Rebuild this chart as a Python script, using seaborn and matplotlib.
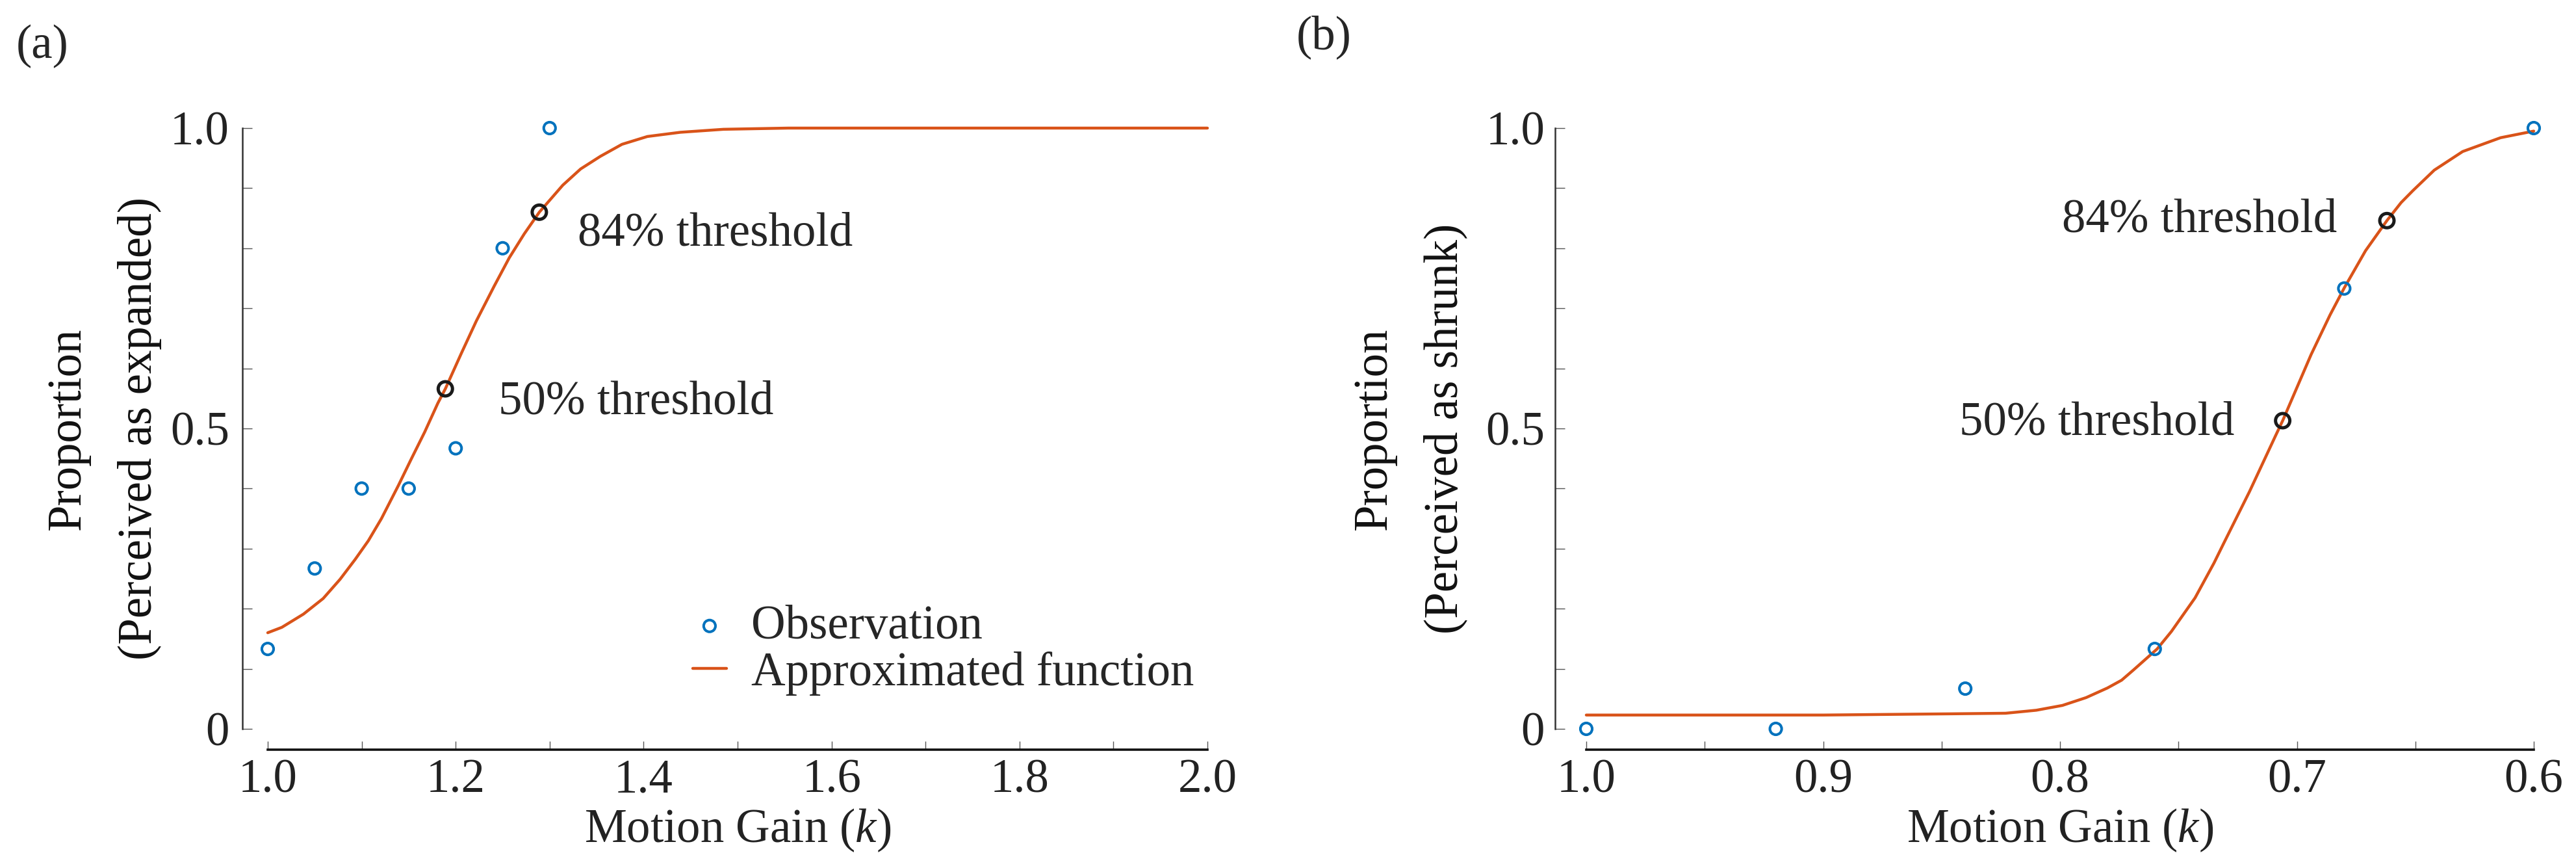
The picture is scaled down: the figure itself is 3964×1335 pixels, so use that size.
"""
Psychometric curves: proportion of 'expanded' / 'shrunk' answers vs motion gain.
Two panels, observations + fitted function + 50% / 84% thresholds.
"""
import numpy as np
import matplotlib
matplotlib.use("Agg")
import matplotlib.pyplot as plt
import seaborn as sns
from matplotlib.ticker import MultipleLocator

# ---- panel (a) : expansion -------------------------------------------------
gain_a = [1.00, 1.05, 1.10, 1.15, 1.20, 1.25, 1.30]
obs_a = [0.133, 0.267, 0.400, 0.400, 0.467, 0.800, 1.000]
fit_gain_a = [1.000, 1.015, 1.038, 1.059, 1.077, 1.093, 1.107, 1.121, 1.139,
              1.153, 1.167, 1.181, 1.189, 1.206, 1.222, 1.241, 1.257, 1.273,
              1.289, 1.314, 1.333, 1.354, 1.377, 1.404, 1.439, 1.485, 1.554,
              1.700, 2.000]
fit_prop_a = [0.160, 0.169, 0.191, 0.217, 0.249, 0.282, 0.313, 0.350, 0.405,
              0.450, 0.494, 0.542, 0.566, 0.625, 0.679, 0.737, 0.784, 0.824,
              0.860, 0.905, 0.932, 0.953, 0.973, 0.986, 0.993, 0.998, 1.000,
              1.000, 1.000]
thr_gain_a = [1.189, 1.289]
thr_prop_a = [0.566, 0.860]
xticks_a = [1.0, 1.2, 1.4, 1.6, 1.8, 2.0]
xticklabels_a = ["1.0", "1.2", "1.4", "1.6", "1.8", "2.0"]

# ---- panel (b) : shrink ----------------------------------------------------
gain_b = [1.00, 0.92, 0.84, 0.76, 0.68, 0.60]
obs_b = [0.000, 0.000, 0.067, 0.133, 0.733, 1.000]
fit_gain_b = [1.000, 0.900, 0.874, 0.847, 0.823, 0.810, 0.799, 0.789, 0.780,
              0.774, 0.769, 0.759, 0.753, 0.748, 0.743, 0.739, 0.735, 0.731,
              0.720, 0.709, 0.706, 0.694, 0.686, 0.680, 0.671, 0.662, 0.656,
              0.651, 0.642, 0.630, 0.614, 0.600]
fit_prop_b = [0.023, 0.023, 0.024, 0.025, 0.026, 0.031, 0.039, 0.052, 0.068,
              0.081, 0.098, 0.133, 0.162, 0.190, 0.218, 0.247, 0.276, 0.308,
              0.395, 0.488, 0.513, 0.623, 0.689, 0.734, 0.796, 0.846, 0.876,
              0.896, 0.930, 0.961, 0.984, 0.995]
thr_gain_b = [0.706, 0.662]
thr_prop_b = [0.513, 0.846]
xticks_b = [1.0, 0.9, 0.8, 0.7, 0.6]
xticklabels_b = ["1.0", "0.9", "0.8", "0.7", "0.6"]

yticks = [0.0, 0.5, 1.0]
yticklabels = ["0", "0.5", "1.0"]

BLUE = "#0072BD"
ORANGE = "#D95319"
FS = 52.5

sns.set_theme(style="ticks")
plt.rcParams["font.family"] = ["Liberation Serif", "DejaVu Serif"]
plt.rcParams["mathtext.fontset"] = "custom"
plt.rcParams["mathtext.rm"] = "Liberation Serif"
plt.rcParams["mathtext.it"] = "Liberation Serif:italic"

W, H = 3964, 1335
fig = plt.figure(figsize=(W / 100, H / 100), dpi=100)
ax_a = fig.add_axes([412 / W, 1 - 1121 / H, 1446 / W, 924 / H])
ax_b = fig.add_axes([2441 / W, 1 - 1121 / H, 1458 / W, 924 / H])


def draw(ax, gain, obs, fgain, fprop, tgain, tprop):
    sns.lineplot(x=fgain, y=fprop, ax=ax, sort=False, estimator=None,
                 color=ORANGE, lw=3.2, label="Approximated function",
                 clip_on=False, zorder=2)
    sns.scatterplot(x=gain, y=obs, ax=ax, marker="o", s=170, color=BLUE,
                    facecolor="none", edgecolor=BLUE, linewidth=2.9,
                    label="Observation", clip_on=False, zorder=3)
    sns.scatterplot(x=tgain, y=tprop, ax=ax, marker="o", s=250, color="k",
                    facecolor="none", edgecolor="k", linewidth=3.6,
                    clip_on=False, zorder=4)


def style(ax, xticks, xlabels, xminor, ypad, yoff, ylab, ylab_x):
    # ticks must be ascending for seaborn's trim
    pairs = sorted(zip(xticks, xlabels))
    ax.set_ylim(0, 1)
    ax.set_xticks([p[0] for p in pairs])
    ax.set_yticks(yticks)
    ax.xaxis.set_minor_locator(MultipleLocator(xminor))
    ax.yaxis.set_minor_locator(MultipleLocator(0.1))
    sns.despine(ax=ax, offset={"left": yoff, "bottom": 23}, trim=True)
    ax.set_xticks([p[0] for p in pairs])
    ax.set_xticklabels([p[1] for p in pairs])
    ax.set_yticklabels(yticklabels)
    ax.spines["left"].set_linewidth(1.8)
    ax.spines["left"].set_color("#333333")
    ax.spines["bottom"].set_linewidth(2.6)
    ax.spines["bottom"].set_color("#111111")
    ax.tick_params(axis="both", which="both", direction="in",
                   labelsize=FS, labelcolor="#222222")
    ax.tick_params(axis="y", which="both", length=11, width=1.0,
                   color="#555555", pad=ypad)
    ax.tick_params(axis="x", which="both", length=9.6, width=1.0,
                   color="#555555", pad=10)
    ax.set_xlabel("Motion Gain ($k$)", fontsize=FS, labelpad=5, color="#222222")
    ax.set_ylabel(ylab, fontsize=FS, linespacing=1.8, color="#111111")
    ax.yaxis.set_label_coords(ylab_x, 0.5)
    ax.set_facecolor("white")


# panel (a)
ax_a.set_xlim(1.0, 2.0)
draw(ax_a, gain_a, obs_a, fit_gain_a, fit_prop_a, thr_gain_a, thr_prop_a)
style(ax_a, xticks_a, xticklabels_a, 0.1, 14.5, 28,
      "Proportion\n(Perceived as expanded)", -0.1127)
ax_a.set_xlim(1.0, 2.0)
ax_a.text(1.3299, 0.805, "84% threshold", fontsize=FS, va="baseline", ha="left")
ax_a.text(1.2455, 0.524, "50% threshold", fontsize=FS, va="baseline", ha="left")
h, l = ax_a.get_legend_handles_labels()
order = [l.index("Observation"), l.index("Approximated function")]
ax_a.legend([h[i] for i in order], [l[i] for i in order],
            loc="center left", bbox_to_anchor=(0.4523, 0.131), frameon=False,
            fontsize=FS, handlelength=0.71, handletextpad=0.52,
            labelspacing=0.05, borderpad=0, borderaxespad=0, scatterpoints=1)

# panel (b)
ax_b.set_xlim(1.0, 0.6)
draw(ax_b, gain_b, obs_b, fit_gain_b, fit_prop_b, thr_gain_b, thr_prop_b)
style(ax_b, xticks_b, xticklabels_b, 0.05, 11.5, 34.5,
      "Proportion\n(Perceived as shrunk)", -0.1255)
ax_b.set_xlim(1.0, 0.6)
ax_b.text(0.7992, 0.827, "84% threshold", fontsize=FS, va="baseline", ha="left")
ax_b.text(0.8425, 0.490, "50% threshold", fontsize=FS, va="baseline", ha="left")
if ax_b.get_legend() is not None:
    ax_b.get_legend().remove()

fig.text(25 / W, 1 - 38 / H, "(a)", fontsize=FS, va="top", ha="left")
fig.text(1995 / W, 1 - 23 / H, "(b)", fontsize=FS, va="top", ha="left")

fig.savefig("out.png", dpi=100, facecolor="white")
